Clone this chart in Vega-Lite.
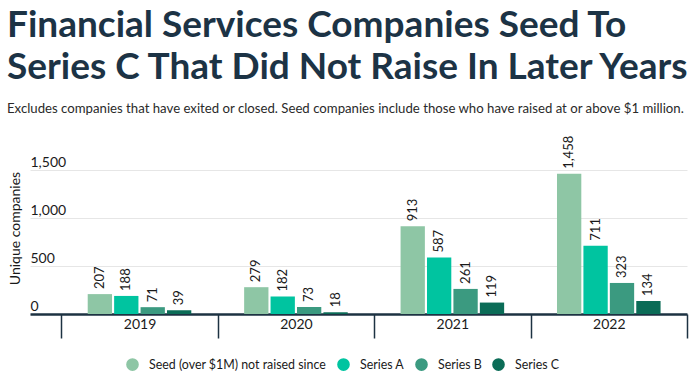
{
  "$schema": "https://vega.github.io/schema/vega-lite/v6.json",
  "width": 657,
  "height": 173,
  "autosize": {"type": "none"},
  "padding": {"left": 30, "top": 141, "right": 13, "bottom": 71},
  "background": "white",
  "config": {
    "view": {"stroke": null},
    "font": "Lato",
    "text": {"font": "Lato"}
  },
  "title": {
    "text": ["Financial Services Companies Seed To", "Series C That Did Not Raise In Later Years"],
    "subtitle": "Excludes companies that have exited or closed. Seed companies include those who have raised at or above $1 million.",
    "anchor": "start",
    "frame": "group",
    "dx": -23,
    "font": "Lato",
    "fontSize": 37,
    "fontWeight": "bold",
    "color": "#1c3345",
    "lineHeight": 42,
    "subtitleFont": "Lato",
    "subtitleFontSize": 13.2,
    "subtitleColor": "#2a2a2a",
    "subtitlePadding": 16,
    "offset": 20
  },
  "data": {
    "values": [
      {"year": "2019", "series": "Seed (over $1M) not raised since", "value": 207},
      {"year": "2019", "series": "Series A", "value": 188},
      {"year": "2019", "series": "Series B", "value": 71},
      {"year": "2019", "series": "Series C", "value": 39},
      {"year": "2020", "series": "Seed (over $1M) not raised since", "value": 279},
      {"year": "2020", "series": "Series A", "value": 182},
      {"year": "2020", "series": "Series B", "value": 73},
      {"year": "2020", "series": "Series C", "value": 18},
      {"year": "2021", "series": "Seed (over $1M) not raised since", "value": 913},
      {"year": "2021", "series": "Series A", "value": 587},
      {"year": "2021", "series": "Series B", "value": 261},
      {"year": "2021", "series": "Series C", "value": 119},
      {"year": "2022", "series": "Seed (over $1M) not raised since", "value": 1458},
      {"year": "2022", "series": "Series A", "value": 711},
      {"year": "2022", "series": "Series B", "value": 323},
      {"year": "2022", "series": "Series C", "value": 134}
    ]
  },
  "encoding": {
    "x": {
      "field": "year",
      "type": "nominal",
      "scale": {"paddingInner": 0, "paddingOuter": 0.1, "align": 1},
      "axis": {
        "title": null,
        "labelAngle": 0,
        "labelFont": "Lato",
        "labelFontSize": 14,
        "labelColor": "#1a1a1a",
        "labelPadding": -21,
        "tickBand": "extent",
        "tickSize": 24,
        "tickWidth": 1.5,
        "tickColor": "#1d3242",
        "domainColor": "#1d3242",
        "domainWidth": 2.5,
        "grid": false
      }
    },
    "xOffset": {
      "field": "series",
      "type": "nominal",
      "sort": ["Seed (over $1M) not raised since", "Series A", "Series B", "Series C"],
      "scale": {"paddingInner": 0.08, "paddingOuter": 1.2}
    },
    "y": {
      "field": "value",
      "type": "quantitative",
      "scale": {"domain": [0, 1800], "nice": false},
      "axis": {
        "title": "Unique companies",
        "titleFont": "Lato",
        "titleFontSize": 14,
        "titleFontWeight": "normal",
        "titleColor": "#1a1a1a",
        "titleAngle": 270,
        "titleAlign": "center",
        "titleBaseline": "middle",
        "titleX": -15,
        "titleY": 87,
        "values": [0, 500, 1000, 1500],
        "format": ",.0f",
        "ticks": false,
        "domain": false,
        "grid": true,
        "gridColor": "#e6e6e6",
        "gridWidth": 1,
        "labelAlign": "left",
        "labelBaseline": "alphabetic",
        "labelPadding": 0,
        "labelOffset": -3.5,
        "labelFont": "Lato",
        "labelFontSize": 14,
        "labelColor": "#1a1a1a"
      }
    }
  },
  "layer": [
    {
      "mark": {"type": "bar"},
      "encoding": {
        "color": {
          "field": "series",
          "type": "nominal",
          "scale": {
            "domain": ["Seed (over $1M) not raised since", "Series A", "Series B", "Series C"],
            "range": ["#8ec6a5", "#00c4a0", "#3b9a80", "#0b6c57"]
          },
          "legend": {
            "title": null,
            "orient": "none",
            "direction": "horizontal",
            "legendX": 96,
            "legendY": 217,
            "symbolType": "circle",
            "symbolSize": 160,
            "symbolStrokeWidth": 0,
            "labelFont": "Lato",
            "labelFontSize": 12.4,
            "labelColor": "#1a1a1a",
            "labelOffset": 10,
            "labelLimit": 0,
            "columnPadding": 10
          }
        }
      }
    },
    {
      "mark": {"type": "text", "angle": 270, "align": "left", "baseline": "middle", "dx": 5, "font": "Lato", "fontSize": 13, "color": "#1a1a1a"},
      "encoding": {
        "text": {"field": "value", "type": "quantitative", "format": ","}
      }
    }
  ]
}
